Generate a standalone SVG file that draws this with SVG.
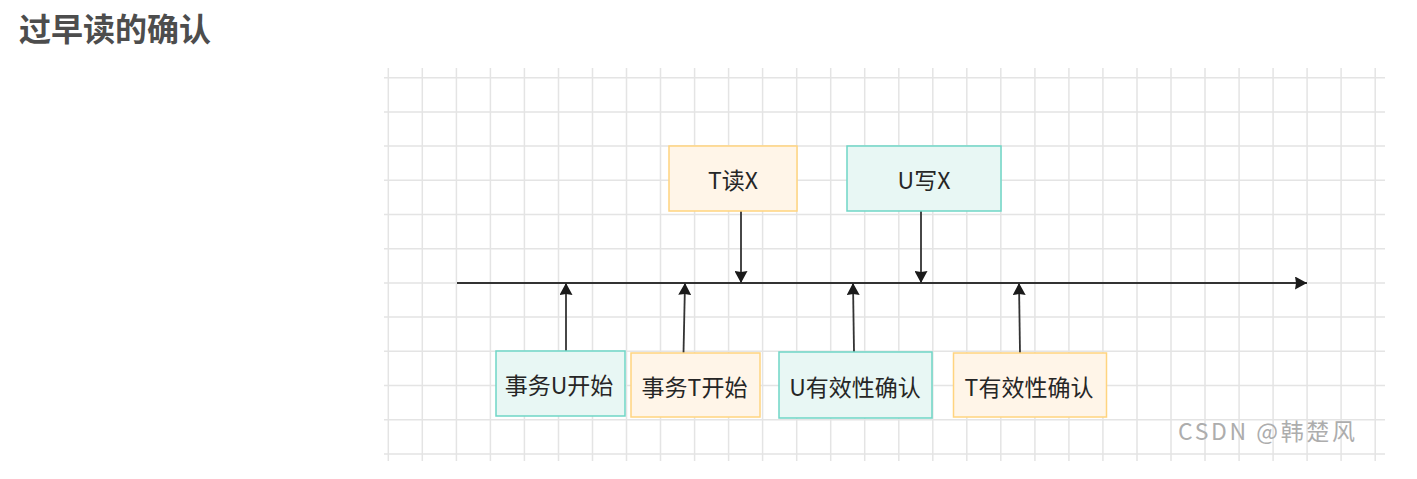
<svg xmlns="http://www.w3.org/2000/svg" width="1417" height="479" viewBox="0 0 1417 479">
  <style>
    .grid { stroke: #e4e4e4; stroke-width: 1.5; fill: none; }
    .box-o { fill: #fff5e8; stroke: #ffd47f; stroke-width: 1.5; }
    .box-t { fill: #e8f7f4; stroke: #6fd6c6; stroke-width: 1.5; }
    .lbl { font-family: "Noto Sans CJK SC", "Noto Sans", sans-serif; font-size: 23px; fill: #262626; text-anchor: middle; dominant-baseline: central; }
    .conn { stroke: #333333; stroke-width: 1.8; fill: none; }
    .title { font-family: "Noto Sans CJK SC", sans-serif; font-size: 32px; font-weight: bold; fill: #4d4d4d; }
    .wm { font-family: "Noto Sans CJK SC", "Noto Sans", sans-serif; font-size: 23px; fill: #adadad; letter-spacing: 2.6px; }
  </style>
  <defs>
    <marker id="arrow" viewBox="0 -6.5 12 13" refX="12" refY="0" markerWidth="12" markerHeight="13" markerUnits="userSpaceOnUse" orient="auto">
      <path d="M0,-6.5 L12,0 L0,6.5 L1,0 z" fill="#1a1a1a"/>
    </marker>
  </defs>
  <rect width="1417" height="479" fill="#ffffff"/>
  <text class="title" x="19" y="41">过早读的确认</text>

  <g id="grid">
    <path class="grid" d="M388.3,68V461 M422.3,68V461 M456.4,68V461 M490.4,68V461 M524.4,68V461 M558.5,68V461 M592.5,68V461 M626.5,68V461 M660.5,68V461 M694.6,68V461 M728.6,68V461 M762.6,68V461 M796.7,68V461 M830.7,68V461 M864.7,68V461 M898.8,68V461 M932.8,68V461 M966.8,68V461 M1000.8,68V461 M1034.9,68V461 M1068.9,68V461 M1102.9,68V461 M1137,68V461 M1171,68V461 M1205,68V461 M1239.1,68V461 M1273.1,68V461 M1307.1,68V461 M1341.1,68V461 M1375.2,68V461"/>
    <path class="grid" d="M384,77.7H1385 M384,111.9H1385 M384,146.1H1385 M384,180.3H1385 M384,214.5H1385 M384,248.7H1385 M384,282.9H1385 M384,317.1H1385 M384,351.3H1385 M384,385.5H1385 M384,419.7H1385 M384,453.9H1385"/>
  </g>

  <g id="connectors">
    <line class="conn" x1="457" y1="283" x2="1307" y2="283" marker-end="url(#arrow)"/>
    <line class="conn" x1="741" y1="211" x2="741" y2="283" marker-end="url(#arrow)"/>
    <line class="conn" x1="921" y1="211" x2="921" y2="283" marker-end="url(#arrow)"/>
    <line class="conn" x1="566" y1="351" x2="566" y2="283" marker-end="url(#arrow)"/>
    <line class="conn" x1="683.5" y1="353" x2="685" y2="283" marker-end="url(#arrow)"/>
    <line class="conn" x1="854" y1="352" x2="853" y2="283" marker-end="url(#arrow)"/>
    <line class="conn" x1="1020" y1="353" x2="1019" y2="283" marker-end="url(#arrow)"/>
  </g>

  <g id="node-t-read-x">
    <rect class="box-o" x="669" y="146" width="128" height="65"/>
    <text class="lbl" x="733" y="179">T读X</text>
  </g>
  <g id="node-u-write-x">
    <rect class="box-t" x="847" y="146" width="154" height="65"/>
    <text class="lbl" x="924" y="179">U写X</text>
  </g>
  <g id="node-u-start">
    <rect class="box-t" x="496" y="351" width="129" height="65"/>
    <text class="lbl" x="559" y="384">事务U开始</text>
  </g>
  <g id="node-t-start">
    <rect class="box-o" x="631" y="353" width="129" height="64"/>
    <text class="lbl" x="694.5" y="386">事务T开始</text>
  </g>
  <g id="node-u-validate">
    <rect class="box-t" x="779" y="352" width="153" height="66"/>
    <text class="lbl" x="855" y="386">U有效性确认</text>
  </g>
  <g id="node-t-validate">
    <rect class="box-o" x="953.5" y="353" width="153" height="64"/>
    <text class="lbl" x="1029" y="386">T有效性确认</text>
  </g>

  <text class="wm" x="1178" y="440">CSDN @韩楚风</text>
</svg>
